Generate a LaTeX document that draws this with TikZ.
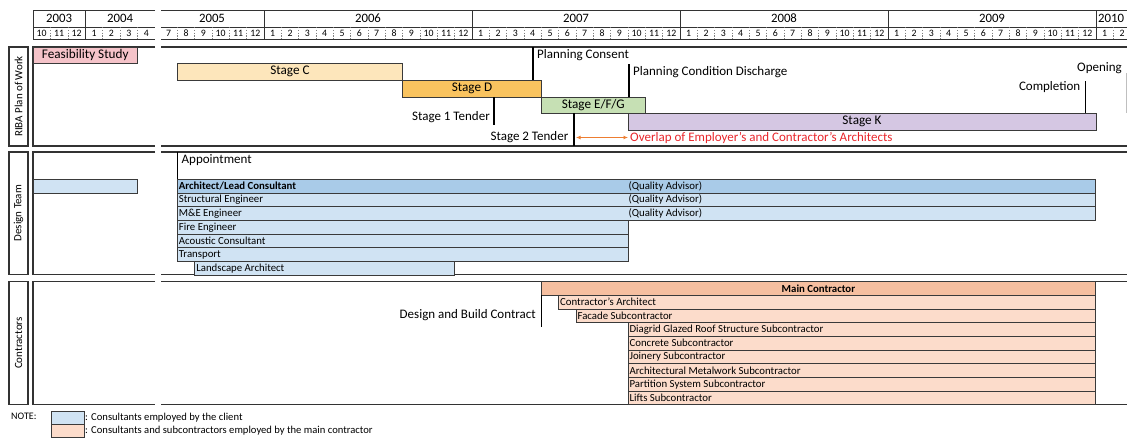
\documentclass[tikz,border=0pt]{standalone}
\usepackage{fontspec}
\setmainfont{Carlito}
\usetikzlibrary{arrows.meta}

\definecolor{framec}{HTML}{333333}
\definecolor{barline}{HTML}{3A3A3A}
\definecolor{feasc}{HTML}{F5C3C9}
\definecolor{stagecc}{HTML}{FDE6BB}
\definecolor{stagedc}{HTML}{F9C35F}
\definecolor{stageec}{HTML}{C6E0B4}
\definecolor{stagekc}{HTML}{D5C7E3}
\definecolor{leadblue}{HTML}{A9CBE8}
\definecolor{clientblue}{HTML}{D0E3F3}
\definecolor{mainsalmon}{HTML}{F6BFA0}
\definecolor{subpeach}{HTML}{FCDCCB}
\definecolor{overlapred}{HTML}{E8262B}
\definecolor{arroworange}{HTML}{ED7D31}

% month width and row height (in pt)
\newcommand\mw{17.333}
\newcommand\lmw{17.43}
\newcommand\rowh{13.72}

% a bar of the chart: name, left x, right x, top y, fill
\newcommand\gbar[5]{%
  \pgfmathsetmacro\gbw{#3-#2}%
  \node[gbarbox, fill=#5, minimum width=\gbw pt, minimum height=\rowh pt] (#1) at (#2,#4) {};}
% a stage bar with its own height
\newcommand\sbar[6]{%
  \pgfmathsetmacro\gbw{#3-#2}%
  \node[gbarbox, fill=#5, minimum width=\gbw pt, minimum height=#6pt] (#1) at (#2,#4) {};}

\begin{document}
\begin{tikzpicture}[x=1pt,y=-1pt,
  frame/.style={draw=framec, line width=1.1pt},
  hdr/.style={draw=framec, line width=0.9pt},
  mdash/.style={draw=gray, line width=0.6pt, dash pattern=on 1.4pt off 1.4pt},
  gbarbox/.style={draw=barline, line width=0.8pt, anchor=north west, inner sep=0pt, outer sep=0pt},
  bartext/.style={anchor=west, inner sep=1.4pt, font=\fontsize{10.8}{11}\selectfont},
  stagetext/.style={inner sep=0pt, font=\fontsize{13.2}{14}\selectfont},
  yeartext/.style={inner sep=0pt, font=\fontsize{12.8}{13}\selectfont},
  monthtext/.style={inner sep=0pt, font=\fontsize{9.8}{10}\selectfont},
  marker/.style={draw=black, line width=1.1pt},
  mlabel/.style={inner sep=2pt, font=\fontsize{13}{14}\selectfont},
  sidebox/.style={draw=framec, line width=1.1pt, rotate=90, inner sep=0pt, minimum height=19pt, font=\fontsize{11}{12}\selectfont},
  legendtext/.style={anchor=west, inner sep=1pt, font=\fontsize{10.6}{11}\selectfont}]

\useasboundingbox (0,0) rectangle (1127,439);
\clip (0,0) rectangle (1127,439);

% ---------------- time axis ----------------
% left part: Oct 2003 - Apr 2004
\draw[hdr] (155,10) -- (33,10) -- (33,39) -- (155,39);
\draw[hdr] (33,27) -- (155,27);
\foreach \i in {1,...,6} \draw[mdash] ({33+\lmw*\i},27) -- ({33+\lmw*\i},39);
\draw[hdr] ({33+\lmw*3},10) -- ({33+\lmw*3},39);
\node[yeartext] (y2003) at ({33+\lmw*1.5},18.5) {2003};
\node[yeartext] (y2004) at ({33+\lmw*5},18.5) {2004};
\foreach \m [count=\i from 0] in {10,11,12,1,2,3,4}
  \node[monthtext] (lm\i) at ({33+\lmw*(\i+0.5)},33.3) {\m};

% right part: Jul 2005 onwards
\draw[hdr] (161,10) -- (1130,10);
\draw[hdr] (161,27) -- (1130,27);
\draw[hdr] (161,39) -- (1130,39);
\foreach \k in {1,...,56} \draw[mdash] ({160+\mw*\k},27) -- ({160+\mw*\k},39);
\foreach \k in {6,18,30,42,54} \draw[hdr] ({160+\mw*\k},10) -- ({160+\mw*\k},39);
\node[yeartext] (y2005) at ({160+\mw*3},18.5) {2005};
\node[yeartext] (y2006) at ({160+\mw*12},18.5) {2006};
\node[yeartext] (y2007) at ({160+\mw*24},18.5) {2007};
\node[yeartext] (y2008) at ({160+\mw*36},18.5) {2008};
\node[yeartext] (y2009) at ({160+\mw*48},18.5) {2009};
\node[yeartext] (y2010) at (1111,18.5) {2010};
\foreach \k in {0,...,55} {
  \pgfmathtruncatemacro\mo{mod(\k+6,12)+1}
  \node[monthtext] (rm\k) at ({160+\mw*(\k+0.5)},33.3) {\mo};
}

% ---------------- panels ----------------
\foreach \t/\b in {47/146, 152/274.5, 281.5/404.5} {
  \draw[frame] (155,\t) -- (33,\t) -- (33,\b) -- (155,\b);
  \draw[frame] (161,\t) -- (1130,\t);
  \draw[frame] (161,\b) -- (1130,\b);
}
\node[sidebox, minimum width=99pt] (riba) at (18.5,96.5) {RIBA Plan of Work};
\node[sidebox, minimum width=122.5pt] (design) at (18.5,213.25) {Design Team};
\node[sidebox, minimum width=123pt] (contr) at (18.5,343) {Contractors};

% ---------------- RIBA plan of work ----------------
\sbar{feas}{33}{137.5}{47}{feasc}{16.5}
\node[stagetext] (feas-t) at (feas.center) {Feasibility Study};
\sbar{stagec}{177.3}{402.7}{63.5}{stagecc}{16.7}
\node[stagetext] (stagec-t) at (stagec.center) {Stage C};
\sbar{staged}{402.7}{541.3}{80.2}{stagedc}{16.7}
\node[stagetext] (staged-t) at (staged.center) {Stage D};
\sbar{stagee}{541.3}{645.3}{96.9}{stageec}{16.5}
\node[stagetext] (stagee-t) at (stagee.center) {Stage E/F/G};
\sbar{stagek}{628}{1096}{113.4}{stagekc}{16.7}
\node[stagetext] (stagek-t) at (stagek.center) {Stage K};

% milestones
\coordinate (pc-top) at (533,47);
\draw[marker] (pc-top) -- (staged.north -| pc-top);
\node[mlabel, anchor=west] (pc) at (535,55) {Planning Consent};

\coordinate (pcd-top) at (629,64);
\draw[marker] (pcd-top) -- (stagee.north -| pcd-top);
\node[mlabel, anchor=west] (pcd) at (631,72) {Planning Condition Discharge};

\coordinate (t1-bot) at (494,125);
\draw[marker] (staged.south -| t1-bot) -- (t1-bot);
\node[mlabel, anchor=east] (t1) at (492,117) {Stage 1 Tender};

\coordinate (t2-bot) at (574,146);
\draw[marker] (stagee.south -| t2-bot) -- (t2-bot);
\node[mlabel, anchor=east] (t2) at (570.5,137.5) {Stage 2 Tender};

\coordinate (ov-a) at (576,137.5);
\coordinate (ov-b) at (628,137.5);
\draw[draw=arroworange, line width=1.1pt, {Latex[length=4.5pt,width=4pt]}-{Latex[length=4.5pt,width=4pt]}] (ov-a) -- (ov-b);
\node[mlabel, anchor=west, text=overlapred] (ov) at (ov-b) {Overlap of Employer's and Contractor's Architects};

\coordinate (comp-top) at (1085.5,81);
\draw[marker] (comp-top) -- (stagek.north -| comp-top);
\node[mlabel, anchor=east] (comp) at (1082.5,87.5) {Completion};

\coordinate (open-top) at (1126,73);
\coordinate (open-bot) at (1126,113);
\draw[draw=gray!50, line width=0.8pt] (open-top) -- (open-bot);
\node[mlabel, anchor=east] (open) at (1124,68.5) {Opening};

% ---------------- design team ----------------
\gbar{prelead}{33}{137.5}{179.3}{clientblue}
\coordinate (app-top) at (177.3,152);
\node[mlabel, anchor=west] (app) at (179.5,160.5) {Appointment};

\gbar{lead}{177.3}{1095.5}{179.3}{leadblue}
\gbar{struct}{177.3}{1095.5}{193.0}{clientblue}
\gbar{mande}{177.3}{1095.5}{206.7}{clientblue}
\gbar{fire}{177.3}{628}{220.4}{clientblue}
\gbar{acou}{177.3}{628}{234.1}{clientblue}
\gbar{trans}{177.3}{628}{247.8}{clientblue}
\gbar{land}{194.7}{454.7}{261.5}{clientblue}
\draw[marker] (app-top) -- (lead.north west);

\node[bartext, font=\fontsize{10.8}{11}\selectfont\bfseries] (lead-t) at (lead.west) {Architect/Lead Consultant};
\node[bartext] (struct-t) at (struct.west) {Structural Engineer};
\node[bartext] (mande-t) at (mande.west) {M\&E Engineer};
\node[bartext] (fire-t) at (fire.west) {Fire Engineer};
\node[bartext] (acou-t) at (acou.west) {Acoustic Consultant};
\node[bartext] (trans-t) at (trans.west) {Transport};
\node[bartext] (land-t) at (land.west) {Landscape Architect};
\node[bartext] (lead-q) at (lead.west -| 627,0) {(Quality Advisor)};
\node[bartext] (struct-q) at (struct.west -| 627,0) {(Quality Advisor)};
\node[bartext] (mande-q) at (mande.west -| 627,0) {(Quality Advisor)};

% ---------------- contractors ----------------
\gbar{main}{541.3}{1095.5}{281.5}{mainsalmon}
\gbar{carch}{558.6}{1095.5}{295.2}{subpeach}
\gbar{facade}{576}{1095.5}{308.9}{subpeach}
\gbar{diagrid}{628}{1095.5}{322.6}{subpeach}
\gbar{concrete}{628}{1095.5}{336.3}{subpeach}
\gbar{joinery}{628}{1095.5}{350.0}{subpeach}
\gbar{metal}{628}{1095.5}{363.7}{subpeach}
\gbar{partition}{628}{1095.5}{377.4}{subpeach}
\gbar{lifts}{628}{1095.5}{391.1}{subpeach}

\node[inner sep=0pt, font=\fontsize{10.8}{11}\selectfont\bfseries] (main-t) at (main.center) {Main Contractor};
\node[bartext] (carch-t) at (carch.west) {Contractor's Architect};
\node[bartext] (facade-t) at (facade.west) {Facade Subcontractor};
\node[bartext] (diagrid-t) at (diagrid.west) {Diagrid Glazed Roof Structure Subcontractor};
\node[bartext] (concrete-t) at (concrete.west) {Concrete Subcontractor};
\node[bartext] (joinery-t) at (joinery.west) {Joinery Subcontractor};
\node[bartext] (metal-t) at (metal.west) {Architectural Metalwork Subcontractor};
\node[bartext] (partition-t) at (partition.west) {Partition System Subcontractor};
\node[bartext] (lifts-t) at (lifts.west) {Lifts Subcontractor};

\coordinate (db-bot) at (541.3,327);
\draw[marker] (main.south west) -- (db-bot);
\node[mlabel, anchor=east] (db) at (538,315.5) {Design and Build Contract};

% ---------------- legend ----------------
\node[legendtext, font=\fontsize{10}{11}\selectfont] (note) at (10,416) {NOTE:};
\node[gbarbox, fill=clientblue, minimum width=33pt, minimum height=13pt] (keyblue) at (51,411) {};
\node[gbarbox, fill=subpeach, minimum width=33pt, minimum height=13pt] (keypeach) at (51,424) {};
\node[legendtext] (keyblue-t) at (keyblue.east) {: Consultants employed by the client};
\node[legendtext] (keypeach-t) at (keypeach.east) {: Consultants and subcontractors employed by the main contractor};
\end{tikzpicture}
\end{document}
